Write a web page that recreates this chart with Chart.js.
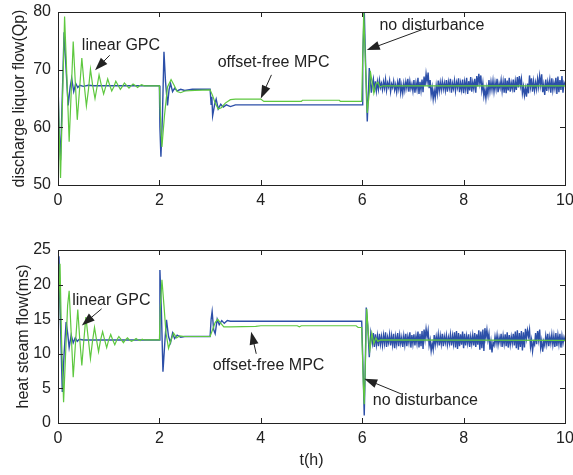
<!DOCTYPE html>
<html>
<head>
<meta charset="utf-8">
<script src="https://cdn.jsdelivr.net/npm/chart.js@4.4.0/dist/chart.umd.min.js"></script>
<style>
  body { margin: 0; background: #fff; }
  #wrap { position: relative; width: 573px; height: 475px; }
  canvas { position: absolute; left: 0; }
  #qpChart { top: 0; }
  #msChart { top: 230px; }
</style>
</head>
<body>
<div id="wrap">
  <canvas id="qpChart" width="573" height="230"></canvas>
  <canvas id="msChart" width="573" height="245"></canvas>
</div>
<script>
// time axis (h)
var xTicks = [0, 2, 4, 6, 8, 10];

// discharge liquor flow Qp, [t, value] up to the last disturbance
var qpGpc = [
  [0,68],[0.02,60],[0.05,51.2],[0.09,65],[0.13,79.2],[0.17,70],[0.22,57.5],[0.26,66],[0.30,74.9],[0.34,68],
  [0.38,61.3],[0.42,66],[0.47,72],[0.51,68],[0.56,63.7],[0.60,66.5],[0.64,70.1],[0.68,67.5],[0.73,65.0],[0.77,67],
  [0.81,69.1],[0.85,67.5],[0.90,65.8],[0.94,67],[0.98,68.4],[1.02,67.3],[1.06,66.3],[1.10,67],[1.14,68.0],[1.19,67.2],
  [1.23,66.6],[1.27,67.1],[1.31,67.7],[1.36,67.2],[1.40,66.8],[1.44,67.2],[1.48,67.5],[1.53,67.2],[1.57,66.9],[1.61,67.2],
  [1.65,67.4],[1.70,67.2],[2.00,67.2],
  [2.02,62],[2.05,56.6],[2.10,62],[2.16,67],[2.23,68.3],[2.29,67.3],[2.35,66.2],[2.42,66.0],[2.5,66.3],[2.7,66.4],[3.0,66.5],
  [3.05,65.5],[3.10,64.2],[3.16,63.2],[3.22,63.4],[3.30,64.2],[3.40,64.8],[3.50,64.9],[4.00,64.9],[4.06,64.5],[4.80,64.5],
  [4.82,64.7],[5.55,64.7],[5.57,64.5],[5.99,64.5],
  [6.01,72],[6.03,80],[6.06,72],[6.10,62.5],[6.14,66],[6.16,69.8],[6.20,67.5],[6.23,65.9],[6.27,67.5],[6.31,67.8],
  [6.35,67],[6.40,67.2],[10,67.2]
];
var qpMpc = [
  [0,68],[0.02,60],[0.05,54.3],[0.08,64],[0.12,76.5],[0.16,70],[0.20,63.8],[0.24,67],[0.27,68.5],[0.31,66.2],
  [0.35,67.6],[0.39,66.9],[0.43,67.3],[0.5,67.1],[0.6,67.3],[0.7,67.2],[2.0,67.2],
  [2.01,60],[2.03,54.9],[2.06,62],[2.09,73.1],[2.12,68],[2.16,63.8],[2.19,66.5],[2.22,67.6],[2.26,66.2],
  [2.30,66.8],[2.35,66.3],[2.42,66.6],[2.5,66.4],[2.65,66.6],[3.0,66.6],
  [3.02,64],[3.035,65.3],[3.05,62],[3.09,64],[3.12,64.9],[3.16,63.2],[3.21,64],[3.26,63.5],[3.32,63.9],[3.40,63.6],
  [3.5,63.9],[6.0,63.9],
  [6.01,72],[6.04,80.5],[6.07,70],[6.10,61],[6.14,70.3],[6.18,66],[6.20,67.5]
];
// noisy Qp after t = 6.22 h, one reading every 0.02 h
var qpNoise = [
  68.4,66.1,68.0,66.3,67.9,66.6,68.2,66.9,67.6,66.5, 67.9,66.8,68.3,66.4,67.7,67.0,68.1,66.2,67.5,66.9,
  68.0,66.5,67.4,66.1,67.8,66.7,68.5,66.0,67.3,65.9, 67.6,66.4,67.9,66.8,68.4,66.2,68.0,66.7,67.5,66.3,
  68.2,66.0,67.7,66.6,68.6,65.8,67.9,66.4,68.3,66.1, 68.8,67.2,69.3,67.9,69.5,66.8,68.2,65.6,66.9,64.9,
  66.4,65.1,67.2,65.8,68.1,66.3,67.8,66.5,68.0,66.6, 67.7,66.4,68.2,66.2,67.9,66.8,68.4,66.0,67.6,66.7,
  68.1,66.3,67.8,66.9,68.5,66.1,67.7,66.5,68.3,65.9, 67.9,66.6,68.6,65.8,68.0,66.4,68.7,66.2,67.8,66.7,
  68.4,66.0,68.9,67.1,69.3,67.6,69.0,66.4,67.7,65.4, 66.6,65.0,66.9,65.7,68.2,66.3,67.9,66.5,68.1,66.2,
  67.8,66.6,68.4,66.1,67.6,66.8,68.2,66.3,67.9,66.0, 68.5,65.9,68.1,66.4,68.6,66.2,67.7,66.7,68.3,66.1,
  68.0,66.5,68.7,66.9,68.9,67.2,68.4,65.9,67.1,65.5, 66.8,65.3,67.6,65.9,69.0,67.0,68.5,66.2,68.0,66.4,
  67.8,66.6,68.4,67.0,68.9,67.3,69.2,66.1,67.4,65.6, 68.3,66.3,67.9,66.8,68.2,66.0,68.5,66.4,67.7,66.7,
  68.6,65.8,68.8,66.1,68.2,66.5,68.9,66.0,67.8,67.4
];

// heat steam flow ms
var msGpc = [
  [0,11.5],[0.02,18],[0.04,23],[0.07,12],[0.11,3.0],[0.15,10],[0.19,17],[0.22,19.1],[0.26,13],[0.30,6.6],
  [0.34,11],[0.39,16.4],[0.43,12],[0.47,8.3],[0.51,12],[0.55,15.3],[0.60,12],[0.64,9.3],[0.68,11.8],[0.72,13.8],
  [0.76,12],[0.80,10.3],[0.84,12],[0.88,13.2],[0.92,12],[0.96,10.9],[1.0,12],[1.04,12.8],[1.08,12],[1.12,11.3],
  [1.16,12],[1.20,12.5],[1.25,12],[1.29,11.6],[1.33,12],[1.37,12.3],[1.41,12],[1.45,11.8],[1.50,12],[1.54,12.2],
  [1.58,12],[1.62,11.9],[1.66,12.1],[1.70,12],[2.0,12],
  [2.02,17],[2.05,20.7],[2.09,17],[2.13,13],[2.18,10.8],[2.23,12],[2.28,13],[2.34,12.3],[2.40,12.6],[2.5,12.5],[3.0,12.5],
  [3.05,13.5],[3.10,14.5],[3.15,15.0],[3.2,14.5],[3.27,13.9],[3.4,13.9],[3.9,13.95],[4.0,14.05],[4.72,14.05],[4.76,13.9],
  [4.80,14.05],[5.88,14.05],[5.92,13.8],[5.99,13.8],
  [6.02,6],[6.04,2.7],[6.06,8],[6.09,16.5],[6.12,13],[6.15,10.5],[6.19,13.0],[6.23,11.5],[6.27,12.3],[6.31,11.8],
  [6.36,12],[10,11.95]
];
var msMpc = [
  [0,11.5],[0.02,24.1],[0.05,14],[0.085,4.5],[0.12,10],[0.16,14.6],[0.19,13],[0.22,10.9],[0.26,12.7],[0.30,11.6],
  [0.34,12.3],[0.38,11.8],[0.42,12.1],[0.5,12],[2.0,12],
  [2.01,22.1],[2.04,16],[2.07,7.4],[2.11,12],[2.14,14.9],[2.18,12.5],[2.22,11.6],[2.26,13],[2.30,12.2],[2.35,12.7],
  [2.42,12.4],[2.5,12.5],[3.0,12.5],
  [3.02,15],[3.04,16.1],[3.07,13.5],[3.10,12.9],[3.14,15],[3.18,14.2],[3.23,14.8],[3.28,14.4],[3.34,14.8],[3.4,14.7],
  [5.99,14.7],
  [6.02,7],[6.04,1.1],[6.06,8],[6.08,16.7],[6.11,14],[6.14,9.5],[6.17,13],[6.20,11.5]
];
var msNoise = [
  13.0,11.0,12.8,11.3,12.6,11.1,12.9,11.4,12.5,11.2, 12.7,11.5,13.1,11.0,12.4,11.6,12.8,11.2,12.6,11.3,
  12.9,10.8,12.5,11.4,13.0,11.1,12.7,11.5,12.4,11.0, 12.6,11.3,12.9,11.1,12.5,11.6,13.1,10.9,12.7,11.4,
  12.8,11.2,12.6,11.5,13.2,10.9,12.9,11.1,13.3,10.7, 13.5,12.1,13.6,12.4,13.4,11.2,12.0,10.4,11.5,10.6,
  12.7,11.3,12.5,11.5,12.8,11.2,12.6,11.4,12.9,11.1, 12.5,11.6,12.7,11.3,12.4,11.5,12.8,11.2,12.6,11.4,
  13.1,10.9,13.3,10.7,13.0,11.1,12.8,11.3,13.2,10.8, 12.9,11.2,12.6,11.5,12.8,11.0,12.5,11.4,12.7,11.2,
  13.0,11.0,12.8,11.3,13.4,10.6,13.2,10.8,13.5,10.4, 13.7,12.3,13.5,12.0,12.9,10.6,11.8,10.2,11.6,11.2,
  12.5,11.5,12.7,11.3,12.4,11.6,12.9,11.0,12.6,11.4, 12.8,11.1,13.1,10.9,12.7,11.3,12.5,11.5,12.9,11.2,
  13.2,10.8,13.4,10.6,13.0,11.0,13.3,10.5,13.1,10.9, 13.6,12.2,13.4,12.5,13.5,11.0,12.0,10.4,11.7,11.3,
  13.0,11.4,13.3,12.0,13.5,10.9,11.9,10.3,11.8,11.2, 12.6,11.4,12.9,11.1,12.5,11.5,12.8,11.3,12.6,11.0,
  13.0,11.1,12.7,11.4,12.9,10.9,12.6,11.5,12.4,11.8
];
var noiseStart = 6.22, noiseStep = 0.02;

var FONT = "'Liberation Sans', Arial, Helvetica, sans-serif";
var INK = '#222';
var GREEN = '#5ec83f';
var BLUE = '#2c4fa8';
Chart.defaults.font.family = FONT;
Chart.defaults.color = INK;

function toPoints(pairs, noise) {
  var pts = pairs.map(function (p) { return { x: p[0], y: p[1] }; });
  if (noise) {
    noise.forEach(function (v, i) { pts.push({ x: noiseStart + i * noiseStep, y: v }); });
  }
  return pts;
}

// box round the plot with MATLAB style inward ticks
var framePlugin = {
  id: 'frame',
  afterDatasetsDraw: function (chart) {
    var a = chart.chartArea, c = chart.ctx, xs = chart.scales.x, ys = chart.scales.y;
    c.save();
    c.strokeStyle = INK;
    c.lineWidth = 1;
    c.beginPath();
    xs.ticks.forEach(function (t) {
      var p = Math.round(xs.getPixelForValue(t.value)) + 0.5;
      c.moveTo(p, a.bottom); c.lineTo(p, a.bottom - 5);
      c.moveTo(p, a.top); c.lineTo(p, a.top + 5);
    });
    ys.ticks.forEach(function (t) {
      var p = Math.round(ys.getPixelForValue(t.value)) + 0.5;
      c.moveTo(a.left, p); c.lineTo(a.left + 5, p);
      c.moveTo(a.right, p); c.lineTo(a.right - 5, p);
    });
    c.stroke();
    c.strokeRect(Math.round(a.left) + 0.5, Math.round(a.top) + 0.5,
      Math.round(a.right - a.left), Math.round(a.bottom - a.top));
    c.restore();
  }
};

// text labels with black arrows, given in data units
var notesPlugin = {
  id: 'notes',
  afterDraw: function (chart, args, opts) {
    var c = chart.ctx, xs = chart.scales.x, ys = chart.scales.y;
    c.save();
    c.font = '16px ' + FONT;
    c.fillStyle = INK;
    c.strokeStyle = INK;
    c.lineWidth = 1;
    c.textBaseline = 'middle';
    (opts.items || []).forEach(function (n) {
      c.fillText(n.text, xs.getPixelForValue(n.tx), ys.getPixelForValue(n.ty));
      var x0 = xs.getPixelForValue(n.from[0]), y0 = ys.getPixelForValue(n.from[1]);
      var x1 = xs.getPixelForValue(n.to[0]), y1 = ys.getPixelForValue(n.to[1]);
      var ang = Math.atan2(y1 - y0, x1 - x0), L = 13, W = 4.5;
      c.beginPath();
      c.moveTo(x0, y0);
      c.lineTo(x1 - L * 0.8 * Math.cos(ang), y1 - L * 0.8 * Math.sin(ang));
      c.stroke();
      c.beginPath();
      c.moveTo(x1, y1);
      c.lineTo(x1 - L * Math.cos(ang) + W * Math.sin(ang), y1 - L * Math.sin(ang) - W * Math.cos(ang));
      c.lineTo(x1 - L * Math.cos(ang) - W * Math.sin(ang), y1 - L * Math.sin(ang) + W * Math.cos(ang));
      c.closePath();
      c.fill();
    });
    c.restore();
  }
};

function makeChart(id, cfg) {
  return new Chart(document.getElementById(id), {
    type: 'line',
    data: {
      datasets: [
        { label: 'linear GPC', data: toPoints(cfg.gpc), borderColor: GREEN, borderWidth: 1.2 },
        { label: 'offset-free MPC', data: toPoints(cfg.mpc, cfg.noise), borderColor: BLUE, borderWidth: 1.4 }
      ]
    },
    options: {
      responsive: false,
      animation: false,
      events: [],
      layout: { padding: cfg.padding },
      elements: {
        point: { radius: 0 },
        line: { tension: 0 }
      },
      plugins: {
        legend: { display: false },
        tooltip: { enabled: false },
        notes: { items: cfg.notes }
      },
      scales: {
        x: {
          type: 'linear', min: 0, max: 10,
          afterBuildTicks: function (s) { s.ticks = xTicks.map(function (v) { return { value: v }; }); },
          ticks: { font: { size: 16 }, padding: 6, maxRotation: 0 },
          grid: { display: false, drawTicks: false },
          border: { display: false },
          title: cfg.xTitle ? { display: true, text: cfg.xTitle, font: { size: 16 }, padding: { top: 0, bottom: 5 } } : { display: false },
          afterFit: function (s) {
            s.height = cfg.xHeight;
            s.paddingLeft = 0;
            s.paddingRight = 0;
          }
        },
        y: {
          min: cfg.yMin, max: cfg.yMax,
          afterBuildTicks: function (s) { s.ticks = cfg.yTicks.map(function (v) { return { value: v }; }); },
          ticks: { font: { size: 16 }, padding: 7 },
          grid: { display: false, drawTicks: false },
          border: { display: false },
          title: { display: true, text: cfg.yTitle, font: { size: 16 }, padding: { top: cfg.yTitlePad, bottom: 0 } },
          afterFit: function (s) {
            s.width = 58;
            s.paddingTop = 0;
            s.paddingBottom = 0;
          }
        }
      }
    },
    plugins: [framePlugin, notesPlugin]
  });
}

makeChart('qpChart', {
  gpc: qpGpc, mpc: qpMpc, noise: qpNoise,
  yMin: 50, yMax: 80, yTicks: [50, 60, 70, 80],
  yTitle: 'discharge liquor flow(Qp)', yTitlePad: 10,
  xHeight: 30, padding: { top: 12, right: 8, bottom: 15, left: 0 },
  notes: [
    { text: 'linear GPC', tx: 0.47, ty: 74.1, from: [1.02, 72.5], to: [0.73, 69.9] },
    { text: 'offset-free MPC', tx: 3.15, ty: 71.3, from: [4.21, 69.1], to: [4.0, 65.0] },
    { text: 'no disturbance', tx: 6.34, ty: 77.7, from: [7.26, 77.2], to: [6.09, 73.4] }
  ]
});

makeChart('msChart', {
  gpc: msGpc, mpc: msMpc, noise: msNoise,
  yMin: 0, yMax: 25, yTicks: [0, 5, 10, 15, 20, 25],
  yTitle: 'heat steam flow(ms)', yTitlePad: 14,
  xTitle: 't(h)',
  xHeight: 52, padding: { top: 20, right: 8, bottom: 0, left: 0 },
  notes: [
    { text: 'linear GPC', tx: 0.28, ty: 17.75, from: [0.86, 16.5], to: [0.47, 14.1] },
    { text: 'offset-free MPC', tx: 3.05, ty: 8.33, from: [3.91, 10.0], to: [3.81, 13.2] },
    { text: 'no disturbance', tx: 6.21, ty: 3.26, from: [6.77, 4.2], to: [6.04, 6.4] }
  ]
});
</script>
</body>
</html>
